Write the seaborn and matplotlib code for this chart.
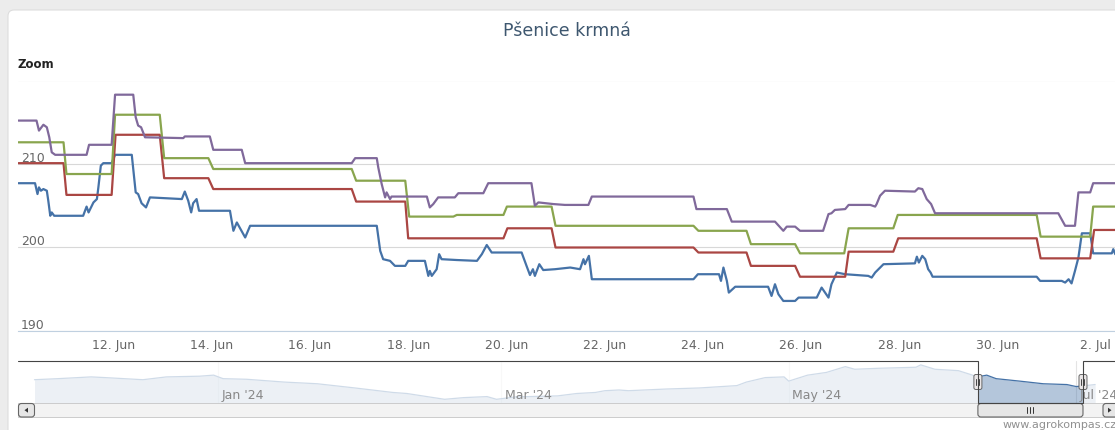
import numpy as np
import pandas as pd
import matplotlib
matplotlib.use("Agg")
import matplotlib.pyplot as plt
import matplotlib.dates as mdates
from matplotlib.patches import FancyBboxPatch, Rectangle, Polygon
import seaborn as sns

# ---- data (day = day of June 2024, fractional) ----
blue_day = [10.06, 10.40, 10.45, 10.48, 10.52, 10.57, 10.64, 10.67, 10.71, 10.74,
            10.79, 11.38, 11.45, 11.49, 11.59, 11.66, 11.69, 11.74, 11.79, 11.96,
            12.03, 12.37, 12.45, 12.50, 12.57, 12.66, 12.74, 13.39, 13.45, 13.52,
            13.58, 13.62, 13.69, 13.74, 14.37, 14.44, 14.51, 14.68, 14.78, 17.36,
            17.43, 17.49, 17.63, 17.73, 17.94, 18.00, 18.34, 18.41, 18.44, 18.48,
            18.58, 18.63, 18.68, 18.99, 19.40, 19.50, 19.60, 19.70, 20.31, 20.41,
            20.48, 20.54, 20.58, 20.67, 20.75, 20.99, 21.30, 21.50, 21.57, 21.60,
            21.68, 21.74, 23.81, 23.90, 24.33, 24.37, 24.42, 24.49, 24.53, 24.66,
            25.33, 25.40, 25.47, 25.54, 25.64, 25.88, 25.95, 26.32, 26.42, 26.49,
            26.56, 26.62, 26.73, 26.90, 27.37, 27.44, 27.51, 27.68, 28.32, 28.36,
            28.40, 28.47, 28.53, 28.59, 28.64, 28.68, 30.80, 30.87, 31.31, 31.38,
            31.45, 31.51, 31.58, 31.65, 31.72, 31.89, 31.95, 32.33, 32.36, 32.40]
blue_val = [207.7, 207.7, 206.4, 207.2, 206.8, 207.0, 206.8, 205.6, 203.8, 204.2,
            203.8, 203.8, 204.9, 204.2, 205.4, 205.8, 207.2, 209.8, 210.1, 210.1,
            211.1, 211.1, 206.6, 206.4, 205.3, 204.8, 206.0, 205.8, 206.7, 205.6,
            204.2, 205.3, 205.8, 204.4, 204.4, 202.0, 203.0, 201.2, 202.6, 202.6,
            199.6, 198.6, 198.4, 197.8, 197.8, 198.4, 198.4, 196.6, 197.2, 196.6,
            197.4, 199.2, 198.6, 198.5, 198.4, 199.2, 200.3, 199.4, 199.4, 197.8,
            196.7, 197.4, 196.6, 198.0, 197.3, 197.4, 197.6, 197.4, 198.6, 198.0,
            199.0, 196.2, 196.2, 196.8, 196.8, 196.0, 197.6, 196.0, 194.6, 195.3,
            195.3, 194.2, 195.6, 194.4, 193.6, 193.6, 194.0, 194.0, 195.2, 194.6,
            194.0, 195.6, 197.0, 196.8, 196.6, 196.4, 197.0, 198.0, 198.1, 198.9,
            198.2, 199.0, 198.6, 197.4, 197.0, 196.5, 196.5, 196.0, 196.0, 195.8,
            196.2, 195.7, 197.2, 198.8, 201.7, 201.7, 199.3, 199.3, 199.8, 199.2]

red_day = [10.06, 10.98, 11.04, 11.96, 12.04, 12.94, 13.03, 13.93, 14.03, 16.85,
           16.94, 17.94, 18.00, 19.94, 20.02, 20.92, 21.00, 23.81, 23.91, 24.89,
           24.98, 25.88, 25.98, 26.90, 26.97, 27.88, 27.98, 30.80, 30.88, 31.89,
           31.97, 32.40]
red_val = [210.1, 210.1, 206.3, 206.3, 213.5, 213.5, 208.3, 208.3, 207.0, 207.0,
           205.5, 205.5, 201.1, 201.1, 202.3, 202.3, 200.0, 200.0, 199.4, 199.4,
           197.8, 197.8, 196.5, 196.5, 199.5, 199.5, 201.1, 201.1, 198.7, 198.7,
           202.1, 202.1]

green_day = [10.06, 10.98, 11.04, 11.96, 12.03, 12.94, 13.03, 13.93, 14.03, 16.85,
             16.94, 17.94, 18.02, 18.92, 18.99, 19.94, 20.01, 20.92, 21.00, 23.81,
             23.91, 24.89, 24.98, 25.88, 25.98, 26.88, 26.97, 27.88, 27.97, 30.80,
             30.88, 31.89, 31.95, 32.40]
green_val = [212.6, 212.6, 208.8, 208.8, 215.9, 215.9, 210.7, 210.7, 209.4, 209.4,
             208.0, 208.0, 203.7, 203.7, 203.9, 203.9, 204.9, 204.9, 202.6, 202.6,
             202.0, 202.0, 200.4, 200.4, 199.3, 199.3, 202.3, 202.3, 203.9, 203.9,
             201.3, 201.3, 204.9, 204.9]

purple_day = [10.06, 10.43, 10.48, 10.57, 10.64, 10.69, 10.74, 10.81, 11.45, 11.50,
              11.96, 12.03, 12.40, 12.45, 12.50, 12.56, 12.64, 13.42, 13.45, 13.96,
              14.03, 14.61, 14.68, 16.85, 16.92, 17.36, 17.39, 17.46, 17.53, 17.56,
              17.63, 17.66, 18.38, 18.44, 18.51, 18.61, 18.95, 19.02, 19.53, 19.63,
              20.51, 20.58, 20.65, 20.96, 21.19, 21.67, 21.74, 23.81, 23.87, 24.49,
              24.59, 25.47, 25.64, 25.71, 25.88, 25.98, 26.45, 26.56, 26.62, 26.69,
              26.90, 26.97, 27.41, 27.51, 27.54, 27.61, 27.71, 28.32, 28.39, 28.47,
              28.56, 28.65, 28.73, 31.24, 31.38, 31.58, 31.65, 31.89, 31.95, 32.40]
purple_val = [215.2, 215.2, 214.0, 214.7, 214.4, 213.2, 211.4, 211.1, 211.1, 212.3,
              212.3, 218.3, 218.3, 215.6, 214.6, 214.4, 213.2, 213.1, 213.3, 213.3,
              211.7, 211.7, 210.1, 210.1, 210.7, 210.7, 209.6, 207.6, 206.0, 206.6,
              205.8, 206.1, 206.1, 204.8, 205.2, 206.0, 206.0, 206.5, 206.5, 207.7,
              207.7, 205.0, 205.4, 205.2, 205.1, 205.1, 206.1, 206.1, 204.6, 204.6,
              203.1, 203.1, 202.0, 202.5, 202.5, 202.0, 202.0, 204.0, 204.1, 204.5,
              204.6, 205.1, 205.1, 204.9, 205.2, 206.2, 206.8, 206.7, 207.1, 207.0,
              205.8, 205.2, 204.1, 204.1, 202.6, 202.6, 206.6, 206.6, 207.7, 207.7]

x_ticks = [12, 14, 16, 18, 20, 22, 24, 26, 28, 30, 32]
x_labels = ["12. Jun", "14. Jun", "16. Jun", "18. Jun", "20. Jun", "22. Jun",
            "24. Jun", "26. Jun", "28. Jun", "30. Jun", "2. Jul"]
y_ticks = [190, 200, 210, 220]
y_labels = ["190", "200", "210", ""]

# navigator (long history)
nav_date = ["2023-11-23", "2023-11-28", "2023-12-05", "2023-12-08", "2023-12-16",
            "2023-12-21", "2023-12-28", "2023-12-31", "2024-01-02", "2024-01-07",
            "2024-01-15", "2024-01-22", "2024-01-30", "2024-02-07", "2024-02-10",
            "2024-02-18", "2024-02-22", "2024-02-27", "2024-02-29", "2024-03-04",
            "2024-03-13", "2024-03-17", "2024-03-21", "2024-03-23", "2024-03-26",
            "2024-03-28", "2024-04-05", "2024-04-12", "2024-04-20", "2024-04-22",
            "2024-04-26", "2024-04-30", "2024-05-01", "2024-05-05", "2024-05-09",
            "2024-05-13", "2024-05-15", "2024-05-20", "2024-05-28", "2024-05-29",
            "2024-06-01", "2024-06-06", "2024-06-09", "2024-06-10", "2024-06-12",
            "2024-06-14", "2024-06-19", "2024-06-24", "2024-06-29", "2024-07-01",
            "2024-07-05"]
nav_val = [204.6, 205.8, 207.8, 207.0, 204.6, 207.8, 208.6, 209.8, 205.8, 205.1,
           201.9, 200.0, 195.2, 190.1, 188.9, 182.3, 184.2, 185.4, 182.3, 185.0,
           186.2, 188.9, 190.1, 192.1, 192.9, 192.1, 194.0, 195.2, 197.9, 201.9,
           207.0, 207.8, 203.0, 209.8, 212.9, 219.5, 216.5, 217.6, 218.8, 221.5,
           216.5, 214.9, 209.8, 207.8, 209.8, 205.8, 203.0, 200.0, 199.1, 196.8,
           199.1]
nav_months = ["2024-01-01", "2024-03-01", "2024-05-01", "2024-07-01"]
nav_month_labels = ["Jan '24", "Mar '24", "May '24", "Jul '24"]
nav_xlim = ("2023-11-19 12:00", "2024-07-09 05:00")
nav_ylim = (178.1, 225.9)
sel_start, sel_end = "2024-06-10 03:00", "2024-07-02 10:00"

colors = {"s1": "#4572A7", "s2": "#AA4643", "s3": "#89A54E", "s4": "#80699B"}

df = pd.concat([
    pd.DataFrame({"day": blue_day, "value": blue_val, "series": "s1"}),
    pd.DataFrame({"day": red_day, "value": red_val, "series": "s2"}),
    pd.DataFrame({"day": green_day, "value": green_val, "series": "s3"}),
    pd.DataFrame({"day": purple_day, "value": purple_val, "series": "s4"}),
], ignore_index=True)

sns.set_style("white")
plt.rcParams["font.family"] = ["DejaVu Sans"]

W, H = 1115, 431
fig = plt.figure(figsize=(W / 100, H / 100), dpi=100, facecolor="#ececec")


def fr(x0, y0, x1, y1):
    # pixel box (top-left origin) -> figure fraction rect
    return [x0 / W, 1 - y1 / H, (x1 - x0) / W, (y1 - y0) / H]


# background panel + texts in pixel coords
bg = fig.add_axes([0, 0, 1, 1], zorder=0)
bg.set_xlim(0, W)
bg.set_ylim(H, 0)
bg.axis("off")
bg.add_patch(FancyBboxPatch((8, 11), W + 20, H + 20,
                            boxstyle="round,pad=0,rounding_size=6",
                            fc="white", ec="#dddddd", lw=0.8))
bg.text(567, 31, "Pšenice krmná", ha="center", va="center",
        fontsize=12.5, color="#3E576F")
bg.text(18, 64, "Zoom", ha="left", va="center", fontsize=8.5,
        fontweight="bold", color="#222222")
bg.text(W + 2, 425, "www.agrokompas.cz", ha="right", va="center",
        fontsize=8, color="#909090")

# main chart
ax = fig.add_axes(fr(18, 81.5, W, 332), zorder=2)
ax.patch.set_alpha(0)
sns.lineplot(data=df, x="day", y="value", hue="series", hue_order=list(colors),
             palette=colors, estimator=None, sort=False, lw=1.6,
             legend=False, ax=ax)
for ln in ax.lines:
    ln.set_solid_joinstyle("round")
ax.set_xlim(10.053, 32.395)
ax.set_ylim(190, 220)
ax.set_xticks(x_ticks)
ax.set_xticklabels(x_labels)
ax.set_yticks(y_ticks)
ax.set_yticklabels(y_labels)
ax.set_xlabel("")
ax.set_ylabel("")
for s in ["top", "left", "right"]:
    ax.spines[s].set_visible(False)
ax.spines["bottom"].set_color("#C0D0E0")
ax.spines["bottom"].set_linewidth(0.8)
ax.tick_params(axis="x", length=3.6, width=0.8, color="#C0D0E0",
               labelsize=9, labelcolor="#666666", pad=1.2)
ax.tick_params(axis="y", length=0, pad=-2, labelsize=9, labelcolor="#666666")
for lab in ax.get_yticklabels():
    lab.set_ha("left")
    lab.set_va("bottom")
ax.grid(axis="y", color="#D8D8D8", lw=0.8)
ax.grid(axis="x", visible=False)
ax.set_axisbelow(True)

# navigator
nav = fig.add_axes(fr(18, 362, W, 404), zorder=2)
nav.patch.set_alpha(0)
nav_dt = pd.to_datetime(nav_date)
x0, x1 = pd.Timestamp(nav_xlim[0]), pd.Timestamp(nav_xlim[1])
s0, s1 = pd.Timestamp(sel_start), pd.Timestamp(sel_end)
nav.fill_between(nav_dt, nav_val, nav_ylim[0], color="#4572A7", alpha=0.4, lw=0, zorder=2)
sns.lineplot(x=nav_dt, y=nav_val, color="#4572A7", lw=0.9, ax=nav, zorder=3)
nav.axvspan(x0, s0, color="white", alpha=0.75, lw=0, zorder=4)
nav.axvspan(s1, x1, color="white", alpha=0.75, lw=0, zorder=4)
nav.set_xlim(x0, x1)
nav.set_ylim(*nav_ylim)
nav.set_xticks(pd.to_datetime(nav_months))
nav.set_xticklabels([""] * len(nav_months))
nav.set_yticks([])
nav.tick_params(axis="x", length=0)
nav.grid(axis="x", color="#e4e4e4", lw=0.8, zorder=1)
nav.set_axisbelow(True)
nav.set_xlabel("")
nav.set_ylabel("")
for s in nav.spines.values():
    s.set_visible(False)
for d, lab in zip(nav_months, nav_month_labels):
    nav.annotate(lab, xy=(mdates.date2num(pd.Timestamp(d)), 0),
                 xycoords=("data", "axes fraction"), xytext=(2.5, 1.5),
                 textcoords="offset points", ha="left", va="bottom",
                 fontsize=9, color="#888888", zorder=6, annotation_clip=False)

# pixel positions of the selection edges
xs = nav.transData.transform((mdates.date2num(s0), 0))[0]
xe = nav.transData.transform((mdates.date2num(s1), 0))[0]

top = fig.add_axes([0, 0, 1, 1], zorder=10)
top.set_xlim(0, W)
top.set_ylim(H, 0)
top.axis("off")
top.patch.set_alpha(0)

# scrollbar track and buttons
top.add_patch(Rectangle((18, 404), W - 18, 14.5, fc="#f3f3f3", ec="#cccccc", lw=0.7))
top.add_patch(FancyBboxPatch((18.5, 404.5), 16, 13.5, boxstyle="round,pad=0,rounding_size=3",
                             fc="#e6e6e6", ec="#666666", lw=0.8))
top.add_patch(Polygon([(24.5, 411.2), (28, 408.7), (28, 413.7)], closed=True, fc="#333333", ec="none"))
top.add_patch(FancyBboxPatch((W - 12, 404.5), 17, 13.5, boxstyle="round,pad=0,rounding_size=3",
                             fc="#e6e6e6", ec="#666666", lw=0.8))
top.add_patch(Polygon([(W - 3.5, 411.2), (W - 7, 408.7), (W - 7, 413.7)], closed=True, fc="#333333", ec="none"))
top.add_patch(FancyBboxPatch((xs, 404.5), xe - xs, 13.5, boxstyle="round,pad=0,rounding_size=3",
                             fc="#e6e6e6", ec="#666666", lw=0.8))
cx = (xs + xe) / 2
for dx in (-3, 0, 3):
    top.plot([cx + dx, cx + dx], [408, 414], color="#333333", lw=0.7)

# navigator outline
top.plot([18, xs, xs, xe, xe, W], [362, 362, 404, 404, 362, 362],
         color="#444444", lw=0.8, solid_joinstyle="miter")

# handles
for hx in (xs, xe):
    top.add_patch(FancyBboxPatch((hx - 4, 375.5), 8, 15, boxstyle="round,pad=0,rounding_size=2",
                                 fc="#ebe7e8", ec="#666666", lw=0.7))
    for dx in (-1.5, 1.5):
        top.plot([hx + dx, hx + dx], [379.5, 386.5], color="#444444", lw=0.7)

fig.savefig("out.png", dpi=100, facecolor=fig.get_facecolor())
